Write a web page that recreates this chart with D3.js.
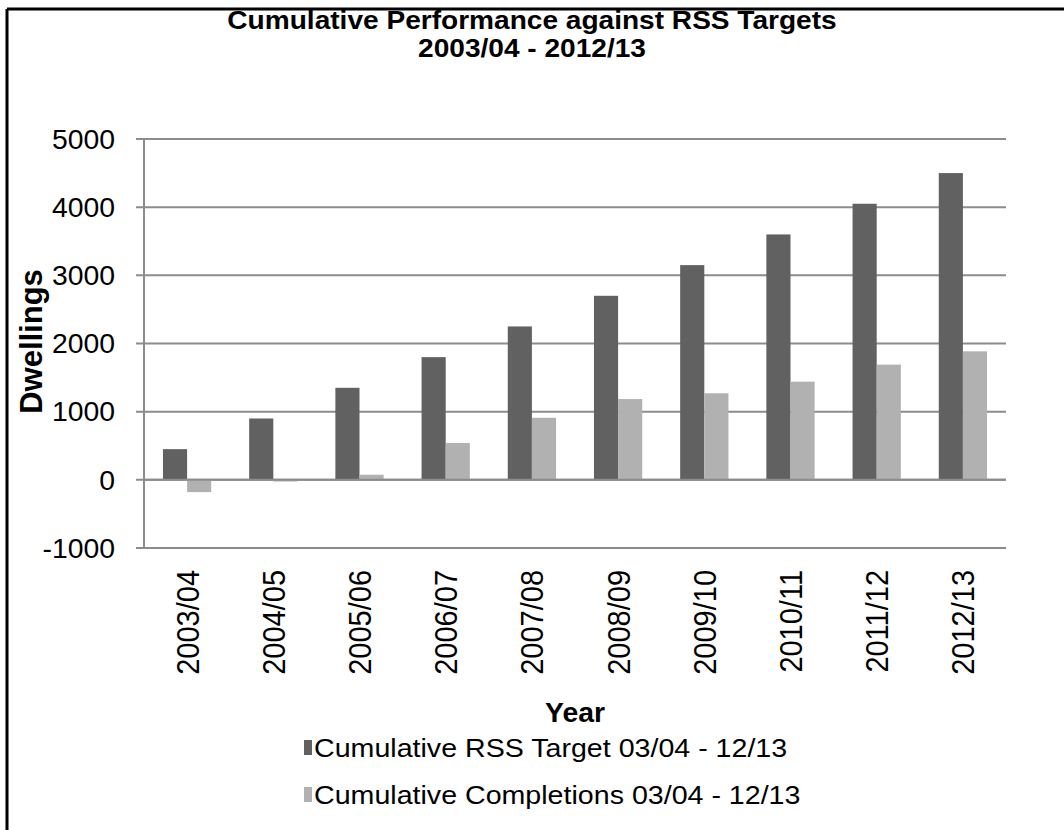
<!DOCTYPE html>
<html>
<head>
<meta charset="utf-8">
<script src="https://cdn.jsdelivr.net/npm/d3@7"></script>
<style>
  html, body { margin: 0; padding: 0; background: #fff; }
  svg { display: block; }
  text { font-family: "Liberation Sans", Arial, sans-serif; fill: #000; }
</style>
</head>
<body>
<script>
const categories = ["2003/04","2004/05","2005/06","2006/07","2007/08","2008/09","2009/10","2010/11","2011/12","2012/13"];
const seriesNames = ["Cumulative RSS Target 03/04 - 12/13", "Cumulative Completions 03/04 - 12/13"];
const targetValues = [450, 900, 1350, 1800, 2250, 2700, 3150, 3600, 4050, 4500];
const completionValues = [-180, -25, 75, 540, 910, 1185, 1270, 1440, 1690, 1885];
const yTicks = [-1000, 0, 1000, 2000, 3000, 4000, 5000];
const titleLines = ["Cumulative Performance against RSS Targets", "2003/04 - 2012/13"];
const colors = ["#616161", "#b1b1b1"];

const W = 1064, H = 830;
const svg = d3.select("body").append("svg").attr("width", W).attr("height", H);

// outer frame (left and top edges visible)
svg.append("line").attr("x1", 7).attr("x2", W).attr("y1", 9).attr("y2", 9).attr("stroke", "#000").attr("stroke-width", 3);
svg.append("line").attr("x1", 7).attr("x2", 7).attr("y1", 9).attr("y2", H).attr("stroke", "#000").attr("stroke-width", 3);

const plot = { left: 144, right: 1006, top: 139, bottom: 548 };

const x0 = d3.scaleBand().domain(categories).range([plot.left, plot.right]).paddingInner(0.44).paddingOuter(0.22);
const x1 = d3.scaleBand().domain([0, 1]).range([0, x0.bandwidth()]);
const y = d3.scaleLinear().domain([-1000, 5000]).range([plot.bottom, plot.top]);

// gridlines
svg.append("g").selectAll("line").data(yTicks).join("line")
  .attr("x1", plot.left - 8).attr("x2", plot.right)
  .attr("y1", d => y(d)).attr("y2", d => y(d))
  .attr("stroke", "#8c8c8c").attr("stroke-width", 2);

// y axis line
svg.append("line").attr("x1", plot.left).attr("x2", plot.left)
  .attr("y1", plot.top).attr("y2", plot.bottom)
  .attr("stroke", "#8c8c8c").attr("stroke-width", 2);

// bars
const series = [targetValues, completionValues];
series.forEach((vals, si) => {
  svg.append("g").selectAll("rect").data(vals).join("rect")
    .attr("x", (d, i) => x0(categories[i]) + x1(si))
    .attr("width", x1.bandwidth())
    .attr("y", d => y(Math.max(0, d)))
    .attr("height", d => Math.abs(y(d) - y(0)))
    .attr("fill", colors[si]);
});

// zero line redrawn on top
svg.append("line").attr("x1", plot.left).attr("x2", plot.right)
  .attr("y1", y(0)).attr("y2", y(0)).attr("stroke", "#8c8c8c").attr("stroke-width", 2);

// y tick labels
svg.append("g").selectAll("text").data(yTicks).join("text")
  .attr("transform", d => `translate(115,${y(d)}) scale(1.05,1)`)
  .attr("dy", "0.36em")
  .attr("text-anchor", "end").style("font-size", "27px")
  .text(d => d);

// x tick labels (rotated)
svg.append("g").selectAll("text").data(categories).join("text")
  .attr("transform", d => `translate(${x0(d) + x0.bandwidth()/2},570) rotate(-90) scale(1,1.1)`)
  .attr("dy", "0.36em").attr("text-anchor", "end").style("font-size", "29px")
  .text(d => d);

// title
svg.append("g").selectAll("text").data(titleLines).join("text")
  .attr("transform", (d, i) => `translate(532,${29 + i * 28}) scale(1.08,1)`)
  .attr("text-anchor", "middle").style("font-size", "26px").style("font-weight", "bold")
  .text(d => d);

// axis titles
svg.append("text").attr("transform", `translate(42,${(plot.top + plot.bottom)/2 - 2}) rotate(-90)`)
  .attr("text-anchor", "middle").style("font-size", "31px").style("font-weight", "bold").text("Dwellings");
svg.append("text").attr("transform", `translate(${(plot.left + plot.right)/2},722) scale(1.05,1)`)
  .attr("text-anchor", "middle").style("font-size", "27px").style("font-weight", "bold").text("Year");

// legend
const legend = svg.append("g").selectAll("g").data(seriesNames).join("g")
  .attr("transform", (d, i) => `translate(304,${748 + i * 47})`);
legend.append("rect").attr("x", 0).attr("y", -8).attr("width", 8).attr("height", 15)
  .attr("fill", (d, i) => colors[i]);
legend.append("text").attr("transform", "translate(10,0) scale(1.1,1)")
  .attr("dy", "0.36em").style("font-size", "26px").text(d => d);
</script>
</body>
</html>
